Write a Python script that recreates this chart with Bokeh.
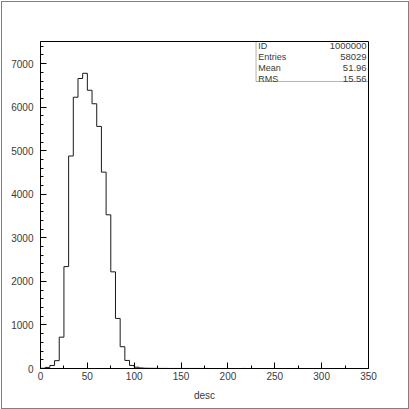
from bokeh.plotting import figure
from bokeh.embed import file_html
from bokeh.resources import INLINE
from bokeh.models import BoxAnnotation, Label, FixedTicker, InlineStyleSheet

# ---- data ----
bin_width = 5
counts = [5, 25, 70, 180, 720, 2340, 4880, 6230, 6660, 6780, 6390, 6080, 5560,
          4510, 3530, 2220, 1150, 500, 185, 70, 30, 12, 6, 4, 3, 2, 2, 1, 1, 1,
          1, 1, 1, 1, 1, 1, 0, 0, 0, 0, 0, 0, 0, 1, 0]
x_ticks = [0, 50, 100, 150, 200, 250, 300, 350]
y_ticks = [0, 1000, 2000, 3000, 4000, 5000, 6000, 7000]
stat_names = ["ID", "Entries", "Mean", "RMS"]
stat_values = ["1000000", "58029", "51.96", "15.56"]
x_title = "desc"

edges = [i * bin_width for i in range(len(counts) + 1)]
ys = counts + [0]

FONT = "Liberation Sans"
TXT = "#3a3a3a"

p = figure(width=409, height=409, output_backend="svg", toolbar_location=None,
           x_range=(0, 350), y_range=(0, 7510),
           min_border_left=40, min_border_right=41, min_border_top=41, min_border_bottom=41)
p.stylesheets = [InlineStyleSheet(css=(
    ":host::after { content: ''; position: absolute; left: 1px; top: 1px; "
    "width: 406px; height: 406px; border: 1px solid #808080; "
    "pointer-events: none; z-index: 100; box-sizing: content-box; }"))]
p.background_fill_color = "white"
p.border_fill_color = "white"
p.outline_line_color = "black"
p.outline_line_width = 1
p.xgrid.grid_line_color = None
p.ygrid.grid_line_color = None

p.step(x=edges, y=ys, mode="after", line_color="#1a1a1a", line_width=1)

for ax in (p.xaxis[0], p.yaxis[0]):
    ax.axis_line_color = "black"
    ax.major_tick_in = 6
    ax.major_tick_out = 0
    ax.minor_tick_in = 3
    ax.minor_tick_out = 0
    ax.major_tick_line_color = "black"
    ax.minor_tick_line_color = "black"
    ax.major_label_text_font = FONT
    ax.major_label_text_font_size = "10px"
    ax.major_label_text_color = TXT

p.xaxis.ticker = FixedTicker(ticks=x_ticks, minor_ticks=[25, 75, 125, 175, 225, 275, 325])
p.yaxis.ticker = FixedTicker(ticks=y_ticks, minor_ticks=[v for v in range(0, 7600, 200) if v % 1000])
p.xaxis.major_label_standoff = 3
p.yaxis.major_label_standoff = 7
p.xaxis.axis_label = x_title
p.xaxis.axis_label_text_font = FONT
p.xaxis.axis_label_text_font_size = "10px"
p.xaxis.axis_label_text_font_style = "normal"
p.xaxis.axis_label_text_color = TXT
p.xaxis.axis_label_standoff = 7

box = BoxAnnotation(left=230, right=350, bottom=6592, top=7510,
                    fill_color=None, line_color="black", line_width=1)
p.add_layout(box)

row_y = [7398, 7145, 6892, 6650]
for name, val, yy in zip(stat_names, stat_values, row_y):
    p.add_layout(Label(x=232.3, y=yy, text=name, text_font=FONT, text_font_size="9px",
                       text_color=TXT, text_baseline="middle", text_align="left"))
    p.add_layout(Label(x=348, y=yy, text=val, text_font=FONT, text_font_size="9.5px",
                       text_color=TXT, text_baseline="middle", text_align="right"))

open("out.html", "w").write(file_html(p, INLINE))
